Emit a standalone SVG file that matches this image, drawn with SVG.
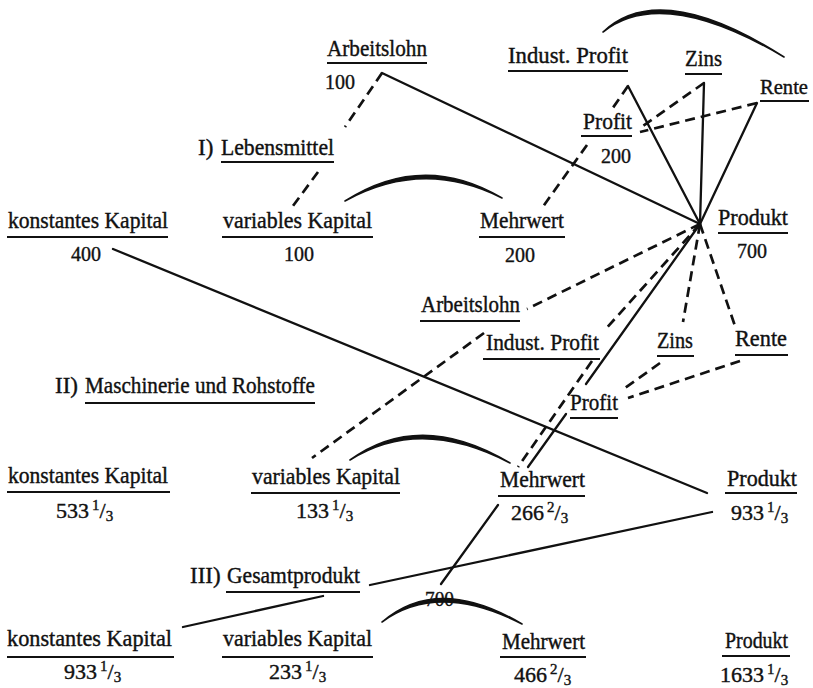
<svg xmlns="http://www.w3.org/2000/svg" width="813" height="688" viewBox="0 0 813 688">
<style>
text { font-family: "Liberation Serif", "DejaVu Serif", serif; font-size: 23px; fill: #111; stroke: #111; stroke-width: 0.4; }
.num { font-size: 22px; }
.sm { font-size: 15px; }
.ul { stroke: #111; stroke-width: 2; }
.c { fill: none; stroke: #111; stroke-width: 2.3; stroke-linecap: round; }
.d { stroke-dasharray: 10 6; stroke-width: 2.7; stroke-linecap: butt; }
.arc { fill: #111; stroke: #111; stroke-width: 1.6; stroke-linejoin: round; }
</style>
<rect width="813" height="688" fill="#fff"/>
<g id="connectors">
  <line class="c" x1="382" y1="73" x2="700" y2="224"/>
  <line class="c" x1="628" y1="86" x2="700" y2="224"/>
  <line class="c" x1="704" y1="83" x2="700" y2="224"/>
  <line class="c" x1="757" y1="103" x2="700" y2="224"/>
  <line class="c" x1="113" y1="249" x2="707" y2="493"/>
  <line class="c" x1="700" y1="224" x2="586" y2="384"/>
  <line class="c" x1="566" y1="414" x2="528" y2="467"/>
  <line class="c" x1="498" y1="505" x2="441" y2="584"/>
  <line class="c" x1="712" y1="512" x2="370" y2="585"/>
  <line class="c" x1="323" y1="596" x2="183" y2="627"/>
  <line class="c d" x1="382" y1="73" x2="345" y2="127"/>
  <line class="c d" x1="318" y1="172" x2="290" y2="210"/>
  <line class="c d" x1="587" y1="145" x2="542" y2="208"/>
  <line class="c d" x1="628" y1="86" x2="610" y2="112"/>
  <line class="c d" x1="704" y1="83" x2="640" y2="128"/>
  <line class="c d" x1="757" y1="103" x2="640" y2="132"/>
  <line class="c d" x1="700" y1="224" x2="527" y2="309"/>
  <line class="c d" x1="700" y1="224" x2="604" y2="331"/>
  <line class="c d" x1="592" y1="361" x2="518" y2="467"/>
  <line class="c d" x1="700" y1="224" x2="683" y2="322"/>
  <line class="c d" x1="700" y1="224" x2="735" y2="326"/>
  <line class="c d" x1="484" y1="333" x2="312" y2="458"/>
  <line class="c d" x1="660" y1="363" x2="625" y2="388"/>
  <line class="c d" x1="740" y1="361" x2="628" y2="398"/>
  <path class="arc" d="M345,201 Q423,151 502,198 Q423,158 345,201 Z"/>
  <path class="arc" d="M603,32 Q660,-22 784,57 Q662,-15 603,32 Z"/>
  <path class="arc" d="M350,460 Q420,409 510,463 Q420,416 350,460 Z"/>
  <path class="arc" d="M382,622 Q438,574 522,624 Q438,581 382,622 Z"/>
</g>

<g id="arbeitslohn-1">
  <text x="327" y="56" textLength="100" lengthAdjust="spacingAndGlyphs">Arbeitslohn</text>
  <line class="ul" x1="327" y1="63" x2="427" y2="63"/>
  <text class="num" x="325" y="89" textLength="30" lengthAdjust="spacingAndGlyphs">100</text>
</g>
<g id="indust-profit-1">
  <text x="508" y="63" textLength="120" lengthAdjust="spacingAndGlyphs">Indust. Profit</text>
  <line class="ul" x1="508" y1="71" x2="628" y2="71"/>
</g>
<g id="zins-1">
  <text x="685" y="66" textLength="37" lengthAdjust="spacingAndGlyphs">Zins</text>
  <line class="ul" x1="685" y1="74" x2="722" y2="74"/>
</g>
<g id="rente-1">
  <text x="760" y="94" style="font-size:21px" textLength="48" lengthAdjust="spacingAndGlyphs">Rente</text>
  <line class="ul" x1="760" y1="101" x2="809" y2="101"/>
</g>
<g id="profit-1">
  <text x="583" y="129" textLength="49" lengthAdjust="spacingAndGlyphs">Profit</text>
  <line class="ul" x1="581" y1="136" x2="632" y2="136"/>
  <text class="num" x="601" y="163" textLength="30" lengthAdjust="spacingAndGlyphs">200</text>
</g>
<g id="lebensmittel">
  <text x="198" y="155">I)</text>
  <text x="221" y="155" textLength="113" lengthAdjust="spacingAndGlyphs">Lebensmittel</text>
  <line class="ul" x1="221" y1="162" x2="334" y2="162"/>
</g>
<g id="produkt-1">
  <text x="718" y="225" textLength="70" lengthAdjust="spacingAndGlyphs">Produkt</text>
  <line class="ul" x1="718" y1="233" x2="788" y2="233"/>
  <text class="num" x="737" y="258" textLength="30" lengthAdjust="spacingAndGlyphs">700</text>
</g>
<g id="konstantes-1">
  <text x="8" y="228" textLength="160" lengthAdjust="spacingAndGlyphs">konstantes Kapital</text>
  <line class="ul" x1="7" y1="237" x2="168" y2="237"/>
  <text class="num" x="71" y="261" textLength="30" lengthAdjust="spacingAndGlyphs">400</text>
</g>
<g id="variables-1">
  <text x="223" y="228" textLength="149" lengthAdjust="spacingAndGlyphs">variables Kapital</text>
  <line class="ul" x1="222" y1="237" x2="373" y2="237"/>
  <text class="num" x="284" y="261" textLength="30" lengthAdjust="spacingAndGlyphs">100</text>
</g>
<g id="mehrwert-1">
  <text x="480" y="228" textLength="84" lengthAdjust="spacingAndGlyphs">Mehrwert</text>
  <line class="ul" x1="479" y1="237" x2="565" y2="237"/>
  <text class="num" x="505" y="262" textLength="30" lengthAdjust="spacingAndGlyphs">200</text>
</g>

<g id="arbeitslohn-2">
  <text x="421" y="312" textLength="99" lengthAdjust="spacingAndGlyphs">Arbeitslohn</text>
  <line class="ul" x1="420" y1="321" x2="520" y2="321"/>
</g>
<g id="indust-profit-2">
  <text x="486" y="350" textLength="113" lengthAdjust="spacingAndGlyphs">Indust. Profit</text>
  <line class="ul" x1="483" y1="359" x2="600" y2="359"/>
</g>
<g id="zins-2">
  <text x="657" y="348" textLength="36" lengthAdjust="spacingAndGlyphs">Zins</text>
  <line class="ul" x1="657" y1="356" x2="694" y2="356"/>
</g>
<g id="rente-2">
  <text x="735" y="346" textLength="52" lengthAdjust="spacingAndGlyphs">Rente</text>
  <line class="ul" x1="735" y1="355" x2="788" y2="355"/>
</g>
<g id="profit-2">
  <text x="570" y="410" textLength="48" lengthAdjust="spacingAndGlyphs">Profit</text>
  <line class="ul" x1="570" y1="418" x2="618" y2="418"/>
</g>
<g id="maschinerie">
  <text x="55" y="393">II)</text>
  <text x="85" y="393" textLength="230" lengthAdjust="spacingAndGlyphs">Maschinerie und Rohstoffe</text>
  <line class="ul" x1="85" y1="403" x2="315" y2="403"/>
</g>
<g id="konstantes-2">
  <text x="8" y="483" textLength="160" lengthAdjust="spacingAndGlyphs">konstantes Kapital</text>
  <line class="ul" x1="7" y1="492" x2="170" y2="492"/>
  <text class="num" x="56" y="518">533<tspan dx="3" dy="-8" class="sm">1</tspan><tspan dy="8">/</tspan><tspan dy="3" class="sm">3</tspan></text>
</g>
<g id="variables-2">
  <text x="252" y="484" textLength="148" lengthAdjust="spacingAndGlyphs">variables Kapital</text>
  <line class="ul" x1="251" y1="493" x2="400" y2="493"/>
  <text class="num" x="296" y="518">133<tspan dx="3" dy="-8" class="sm">1</tspan><tspan dy="8">/</tspan><tspan dy="3" class="sm">3</tspan></text>
</g>
<g id="mehrwert-2">
  <text x="500" y="487" textLength="85" lengthAdjust="spacingAndGlyphs">Mehrwert</text>
  <line class="ul" x1="498" y1="496" x2="585" y2="496"/>
  <text class="num" x="511" y="520">266<tspan dx="3" dy="-8" class="sm">2</tspan><tspan dy="8">/</tspan><tspan dy="3" class="sm">3</tspan></text>
</g>
<g id="produkt-2">
  <text x="727" y="486" textLength="70" lengthAdjust="spacingAndGlyphs">Produkt</text>
  <line class="ul" x1="725" y1="493" x2="797" y2="493"/>
  <text class="num" x="731" y="520">933<tspan dx="3" dy="-8" class="sm">1</tspan><tspan dy="8">/</tspan><tspan dy="3" class="sm">3</tspan></text>
</g>

<g id="gesamtprodukt">
  <text x="190" y="583">III)</text>
  <text x="227" y="583" textLength="133" lengthAdjust="spacingAndGlyphs">Gesamtprodukt</text>
  <line class="ul" x1="226" y1="592" x2="360" y2="592"/>
  <text class="num" x="425" y="606" textLength="29" lengthAdjust="spacingAndGlyphs">700</text>
</g>
<g id="konstantes-3">
  <text x="7" y="646" textLength="165" lengthAdjust="spacingAndGlyphs">konstantes Kapital</text>
  <line class="ul" x1="7" y1="657" x2="174" y2="657"/>
  <text class="num" x="64" y="679">933<tspan dx="3" dy="-8" class="sm">1</tspan><tspan dy="8">/</tspan><tspan dy="3" class="sm">3</tspan></text>
</g>
<g id="variables-3">
  <text x="223" y="646" textLength="149" lengthAdjust="spacingAndGlyphs">variables Kapital</text>
  <line class="ul" x1="222" y1="657" x2="373" y2="657"/>
  <text class="num" x="269" y="679">233<tspan dx="3" dy="-8" class="sm">1</tspan><tspan dy="8">/</tspan><tspan dy="3" class="sm">3</tspan></text>
</g>
<g id="mehrwert-3">
  <text x="502" y="649" textLength="83" lengthAdjust="spacingAndGlyphs">Mehrwert</text>
  <line class="ul" x1="500" y1="657" x2="586" y2="657"/>
  <text class="num" x="514" y="682">466<tspan dx="3" dy="-8" class="sm">2</tspan><tspan dy="8">/</tspan><tspan dy="3" class="sm">3</tspan></text>
</g>
<g id="produkt-3">
  <text x="725" y="648" textLength="63" lengthAdjust="spacingAndGlyphs">Produkt</text>
  <line class="ul" x1="722" y1="656" x2="790" y2="656"/>
  <text class="num" x="720" y="682">1633<tspan dx="3" dy="-8" class="sm">1</tspan><tspan dy="8">/</tspan><tspan dy="3" class="sm">3</tspan></text>
</g>
</svg>
